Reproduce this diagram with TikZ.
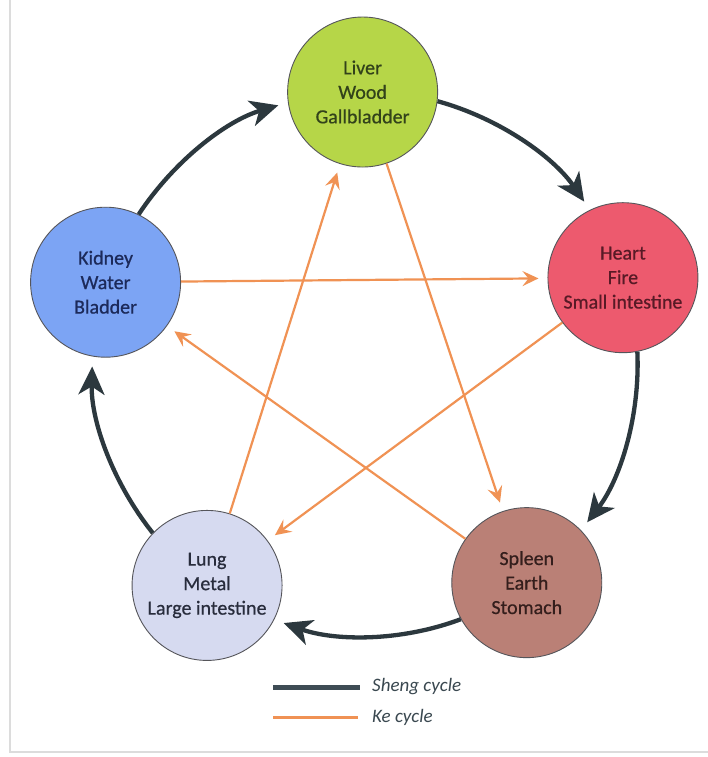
\documentclass[tikz,border=0pt]{standalone}
\usepackage{fontspec}
\setmainfont{Carlito}
\newfontfamily\organfont[FakeBold=0.6]{Carlito}
\usetikzlibrary{arrows.meta}
\definecolor{livercol}{RGB}{182,214,72}
\definecolor{heartcol}{RGB}{237,90,110}
\definecolor{spleencol}{RGB}{186,128,118}
\definecolor{lungcol}{RGB}{214,218,240}
\definecolor{kidneycol}{RGB}{124,164,244}
\definecolor{livertext}{RGB}{50,66,26}
\definecolor{hearttext}{RGB}{88,26,38}
\definecolor{spleentext}{RGB}{52,30,28}
\definecolor{lungtext}{RGB}{40,44,60}
\definecolor{kidneytext}{RGB}{28,42,90}
\definecolor{organline}{RGB}{85,85,90}
\definecolor{shengcol}{RGB}{44,56,62}
\definecolor{legendsheng}{RGB}{62,76,85}
\definecolor{kecol}{RGB}{240,146,84}
\definecolor{legendtext}{RGB}{58,72,80}
\definecolor{framecol}{RGB}{220,220,220}
\begin{document}
\begin{tikzpicture}[x=1pt,y=1pt,
  organ/.style={circle, draw=organline, line width=0.9pt, minimum size=150pt,
    inner sep=0pt, align=center, font=\organfont\fontsize{20}{24.5}\selectfont},
  sheng/.style={draw=shengcol, line width=4.3pt,
    -{Stealth[length=28pt,width=26pt,inset=8pt]}, shorten >=10pt, looseness=0.88},
  ke/.style={draw=kecol, line width=2.2pt,
    -{Stealth[length=16pt,width=15pt,inset=6pt]}, shorten >=9pt},
  legendline/.style={line width=#1},
  legendlabel/.style={anchor=west, inner sep=0pt, text=legendtext,
    font=\itshape\fontsize{19}{22}\selectfont}
]
\useasboundingbox (0,0) rectangle (708,757);
\fill[white] (0,0) rectangle (708,757);
\draw[framecol, line width=1.5pt] (10,757) -- (10,5) -- (708,5);

\coordinate (C) at (365,393);
\node[organ, fill=livercol, text=livertext] (liver) at ([shift={(90.5:272)}]C) {Liver\\Wood\\Gallbladder};
\node[organ, fill=heartcol, text=hearttext] (heart) at ([shift={(18.5:272)}]C) {Heart\\Fire\\Small intestine};
\node[organ, fill=spleencol, text=spleentext] (spleen) at ([shift={(-53.5:272)}]C) {Spleen\\Earth\\Stomach};
\node[organ, fill=lungcol, text=lungtext] (lung) at ([shift={(-125.5:272)}]C) {Lung\\Metal\\Large intestine};
\node[organ, fill=kidneycol, text=kidneytext] (kidney) at ([shift={(162.5:272)}]C) {Kidney\\Water\\Bladder};

% Ke cycle
\draw[ke] (liver) -- (spleen);
\draw[ke] (spleen) -- (kidney);
\draw[ke] (kidney) -- (heart);
\draw[ke] (heart) -- (lung);
\draw[ke] (lung) -- (liver);

% Sheng cycle
\draw[sheng] (kidney.64.6) to[out=56.6, in=196.4] (liver.188.4);
\draw[sheng] (liver.-7.4) to[out=-15.4, in=124.4] (heart.116.4);
\draw[sheng] (heart.-79.4) to[out=-87.4, in=52.4] (spleen.44.4);
\draw[sheng] (spleen.-151.4) to[out=-159.4, in=-19.6] (lung.-27.6);
\draw[sheng] (lung.136.6) to[out=128.6, in=-91.6] (kidney.260.4);

% Legend
\coordinate (s1) at (273,69); \coordinate (s2) at (360,69);
\coordinate (k1) at (273,39); \coordinate (k2) at (358,39);
\draw[legendsheng, legendline=5pt] (s1) -- (s2);
\draw[kecol, legendline=3pt] (k1) -- (k2);
\node[legendlabel] (shenglabel) at (372,70) {Sheng cycle};
\node[legendlabel] (kelabel) at (372,40) {Ke cycle};
\end{tikzpicture}
\end{document}
